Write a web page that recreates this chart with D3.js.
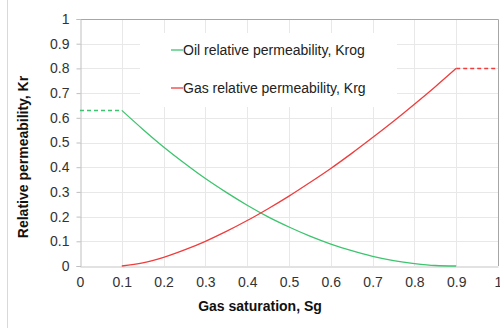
<!DOCTYPE html>
<html>
<head>
<meta charset="utf-8">
<script src="https://cdn.jsdelivr.net/npm/d3@7"></script>
<style>
  body { margin: 0; background: #fff; }
  svg { display: block; font-family: "Liberation Sans", Arial, sans-serif; }
</style>
</head>
<body>
<svg id="canvas"></svg>
<script>
// data
let sgOil = [0.1, 0.15, 0.2, 0.25, 0.3, 0.35, 0.4, 0.45, 0.5, 0.55, 0.6, 0.65, 0.7, 0.75, 0.8, 0.85, 0.9];
let krog = [0.63, 0.554, 0.482, 0.416, 0.354, 0.298, 0.246, 0.199, 0.158, 0.121, 0.089, 0.062, 0.039, 0.022, 0.010, 0.002, 0];
let sgGas = [0.1, 0.15, 0.2, 0.25, 0.3, 0.35, 0.4, 0.45, 0.5, 0.55, 0.6, 0.65, 0.7, 0.75, 0.8, 0.85, 0.9];
let krg = [0, 0.0125, 0.035, 0.065, 0.1, 0.14, 0.184, 0.232, 0.283, 0.338, 0.395, 0.456, 0.52, 0.586, 0.655, 0.726, 0.8];
// dashed end pieces
let oilExt = [[0, 0.63], [0.1, 0.63]];
let gasExt = [[0.9, 0.8], [1, 0.8]];

let xTicks = [0, 0.1, 0.2, 0.3, 0.4, 0.5, 0.6, 0.7, 0.8, 0.9, 1];
let yTicks = [0, 0.1, 0.2, 0.3, 0.4, 0.5, 0.6, 0.7, 0.8, 0.9, 1];
let legendLabels = ['Oil relative permeability, Krog', 'Gas relative permeability, Krg'];

let width = 500;
let height = 328;
let plotLeft = 80, plotRight = 498, plotTop = 19, plotBottom = 266;

let oilColor = '#3cc46e';
let gasColor = '#f03c3c';

let canvas = d3.select('#canvas').attr('width', width).attr('height', height);

let xScale = d3.scaleLinear().domain([0, 1]).range([plotLeft, plotRight]);
let yScale = d3.scaleLinear().domain([0, 1]).range([plotBottom, plotTop]);

// chart area border (left edge visible)
canvas.append('line')
      .attr('x1', 7.5).attr('x2', 7.5).attr('y1', 0).attr('y2', height)
      .attr('stroke', '#d9d9d9');

// grid
canvas.append('g')
      .selectAll('line')
      .data(yTicks.slice(1, -1))
      .enter()
      .append('line')
      .attr('x1', plotLeft).attr('x2', plotRight)
      .attr('y1', (d) => Math.round(yScale(d)) + 0.5)
      .attr('y2', (d) => Math.round(yScale(d)) + 0.5)
      .attr('stroke', '#e8e8e8');

canvas.append('g')
      .selectAll('line')
      .data(xTicks.slice(1, -1))
      .enter()
      .append('line')
      .attr('y1', plotTop).attr('y2', plotBottom)
      .attr('x1', (d) => Math.round(xScale(d)) + 0.5)
      .attr('x2', (d) => Math.round(xScale(d)) + 0.5)
      .attr('stroke', '#e8e8e8');

// plot frame top and right
canvas.append('path')
      .attr('d', 'M' + plotLeft + ',' + (plotTop + 0.5) + 'H' + (plotRight + 0.5) + 'V' + plotBottom)
      .attr('fill', 'none')
      .attr('stroke', '#a6a6a6');

// axes
let xAxis = d3.axisBottom(xScale).tickValues(xTicks).tickFormat(d3.format('')).tickSize(0).tickPadding(11);
let yAxis = d3.axisLeft(yScale).tickValues(yTicks).tickFormat(d3.format('')).tickSize(4).tickPadding(7);

let gx = canvas.append('g')
      .attr('transform', 'translate(0,' + (plotBottom + 0.5) + ')')
      .call(xAxis);
gx.select('.domain').attr('stroke', '#d9d9d9').attr('stroke-width', 1.5);

let gy = canvas.append('g')
      .attr('transform', 'translate(' + (plotLeft + 0.5) + ',0)')
      .call(yAxis);
gy.select('.domain').attr('stroke', '#bfbfbf');
gy.selectAll('.tick line').attr('stroke', '#bfbfbf');

canvas.selectAll('.tick text')
      .attr('font-size', 14)
      .attr('fill', '#333')
      .attr('font-family', '"Liberation Sans", Arial, sans-serif');

// legend box
canvas.append('rect')
      .attr('x', 140).attr('y', 33).attr('width', 257).attr('height', 74)
      .attr('fill', '#fff');

let legend = canvas.append('g');
legendLabels.forEach((label, i) => {
    let y = 50 + i * 38;
    legend.append('line')
          .attr('x1', 171).attr('x2', 183).attr('y1', y).attr('y2', y)
          .attr('stroke', i === 0 ? oilColor : gasColor)
          .attr('stroke-width', 1.3);
    legend.append('text')
          .attr('x', 183).attr('y', y + 5)
          .attr('font-size', 14)
          .attr('fill', '#222')
          .text(label);
});

// curves
let line = d3.line().x((d) => xScale(d[0])).y((d) => yScale(d[1]));

canvas.append('path')
      .datum(sgOil.map((s, i) => [s, krog[i]]))
      .attr('d', line.curve(d3.curveMonotoneX))
      .attr('fill', 'none').attr('stroke', oilColor).attr('stroke-width', 1.3);

canvas.append('path')
      .datum(sgGas.map((s, i) => [s, krg[i]]))
      .attr('d', line.curve(d3.curveMonotoneX))
      .attr('fill', 'none').attr('stroke', gasColor).attr('stroke-width', 1.3);

canvas.append('path')
      .datum(oilExt)
      .attr('d', line.curve(d3.curveLinear))
      .attr('fill', 'none').attr('stroke', oilColor).attr('stroke-width', 1.5)
      .attr('stroke-dasharray', '4,3');

canvas.append('path')
      .datum(gasExt)
      .attr('d', line.curve(d3.curveLinear))
      .attr('fill', 'none').attr('stroke', gasColor).attr('stroke-width', 1.5)
      .attr('stroke-dasharray', '4,3');

// axis titles
canvas.append('text')
      .attr('x', 260).attr('y', 311)
      .attr('text-anchor', 'middle')
      .attr('font-size', 14).attr('font-weight', 'bold').attr('fill', '#111')
      .text('Gas saturation, Sg');

canvas.append('text')
      .attr('transform', 'translate(28,157) rotate(-90)')
      .attr('text-anchor', 'middle')
      .attr('font-size', 14).attr('font-weight', 'bold').attr('fill', '#111')
      .text('Relative permeability, Kr');
</script>
</body>
</html>
